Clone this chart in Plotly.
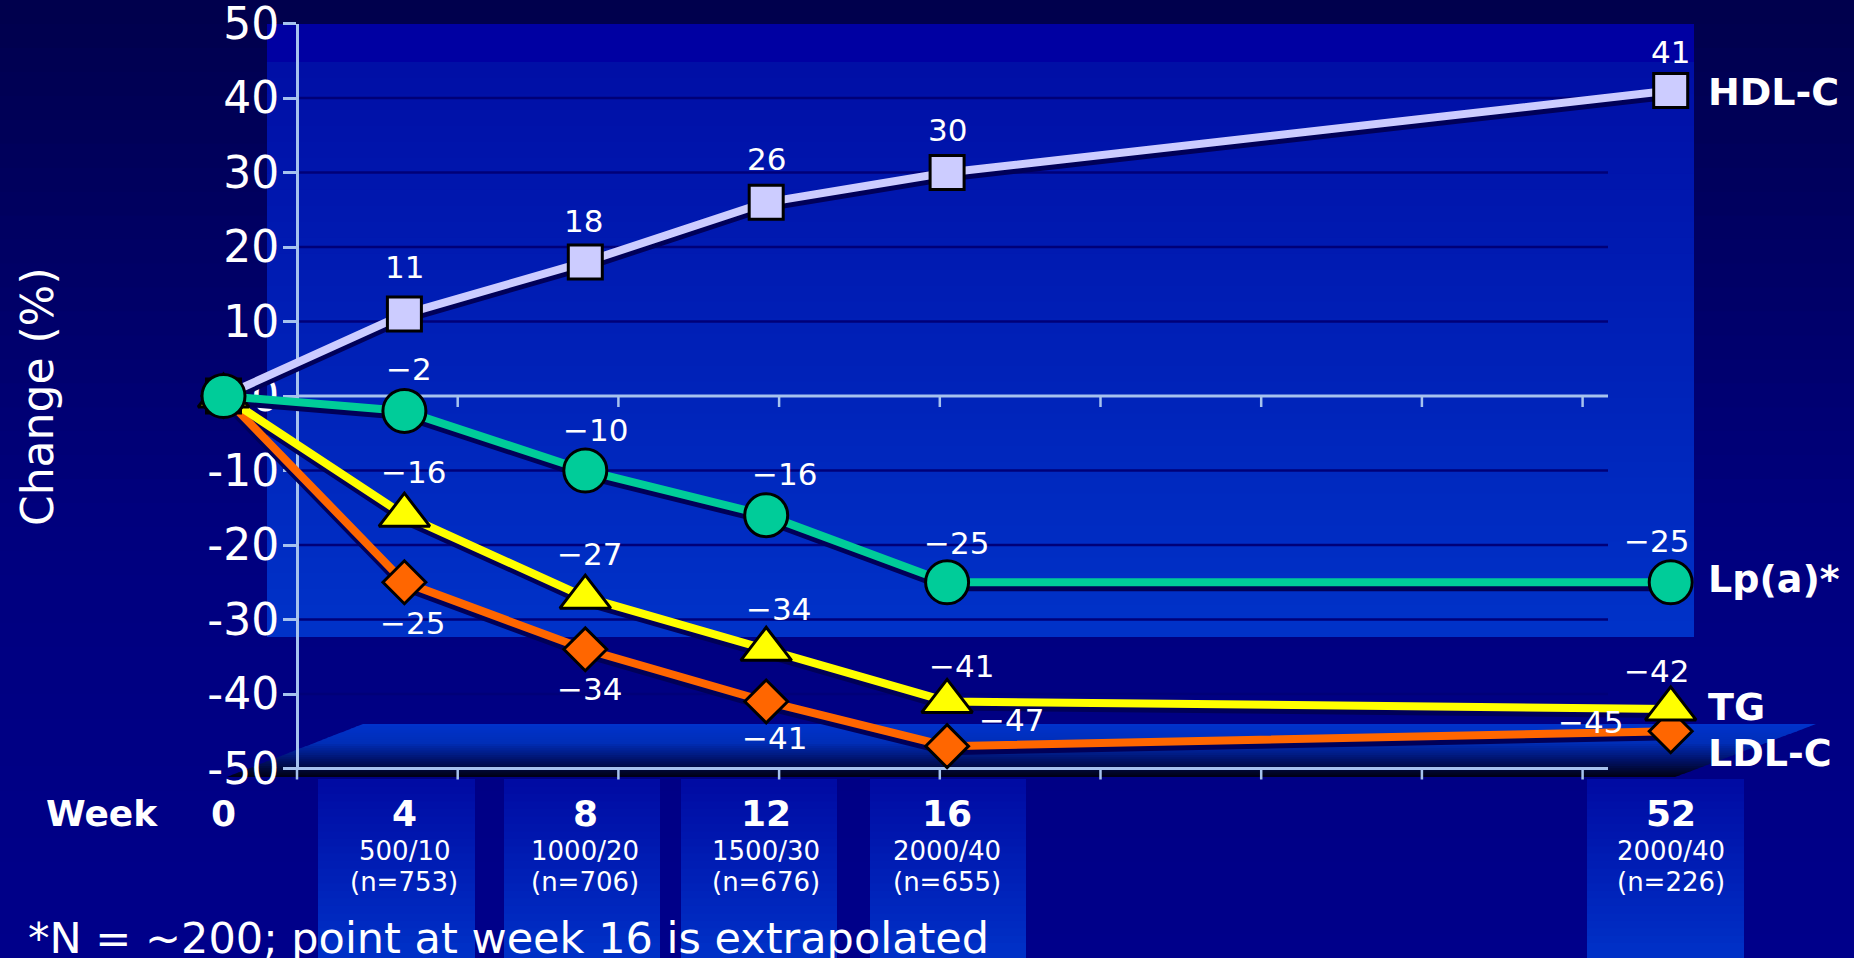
import plotly.graph_objects as go

# ---- data -----------------------------------------------------------------
weeks = [0, 4, 8, 12, 16, 52]
slots = [0, 1, 2, 3, 4, 8]                       # horizontal slot of each visit
doses = ["", "500/10", "1000/20", "1500/30", "2000/40", "2000/40"]
n_subjects = [None, 753, 706, 676, 655, 226]

hdl_c = [0, 11, 18, 26, 30, 41]
lp_a = [0, -2, -10, -16, -25, -25]
tg = [0, -16, -27, -34, -41, -42]
ldl_c = [0, -25, -34, -41, -47, -45]

y_ticks = [-50, -40, -30, -20, -10, 0, 10, 20, 30, 40, 50]
y_title = "Change (%)"
footnote = "*N = ~200; point at week 16 is extrapolated"

# ---- geometry (pixels) ----------------------------------------------------
W, H = 1854, 958
X0_PX, SLOT_PX = 223.5, 180.9          # x of slot 0 and width of one slot
Y_TOP_PX, Y_BOT_PX = 23.5, 768.5       # y of +50 and -50
AXIS_L, AXIS_R = 297, 1608             # extent of the category axis lines
TICK_STEP = 160.7
ZERO_PX = Y_TOP_PX + 50 * (Y_BOT_PX - Y_TOP_PX) / 100

FONT = "DejaVu Sans"
AXIS_BLUE = "#a6c2ee"
SHADOW = "#000058"


def fx(px):
    return px / W


def fy(py):
    return 1 - py / H


def hex_rgb(c):
    return [int(c[i:i + 2], 16) for i in (1, 3, 5)]


def color_at(stops, t):
    for (t0, c0), (t1, c1) in zip(stops[:-1], stops[1:]):
        if t <= t1:
            u = 0 if t1 == t0 else (t - t0) / (t1 - t0)
            a, b = hex_rgb(c0), hex_rgb(c1)
            return "#%02x%02x%02x" % tuple(round(a[k] + (b[k] - a[k]) * u) for k in range(3))
    return stops[-1][1]


shapes = []


def v_gradient(x0, x1, y0, y1, stops, n=30):
    h = (y1 - y0) / n
    for i in range(n):
        ya = y0 + i * h
        yb = min(y1, ya + h + 0.8)
        shapes.append(dict(type="rect", xref="paper", yref="paper",
                           x0=fx(x0), x1=fx(x1), y0=fy(yb), y1=fy(ya),
                           fillcolor=color_at(stops, (i + 0.5) / n),
                           line=dict(width=0), layer="below"))


# page background
v_gradient(0, W, 0, H, [(0, "#00004c"), (0.55, "#00007e"), (1, "#00008a")], n=40)

# back wall
shapes.append(dict(type="rect", xref="paper", yref="paper",
                   x0=fx(267), x1=fx(1694), y0=fy(62), y1=fy(24),
                   fillcolor="#0000a2", line=dict(width=0), layer="below"))
v_gradient(267, 1694, 62, 637, [(0, "#000ea6"), (1, "#0033c8")], n=36)

# floor (slanted slab)
FL_TOP, FL_BOT = 724, 777
FL_LT, FL_LB, FL_RT, FL_RB = 363, 227, 1816, 1675
floor_stops = [(0, "#0033cc"), (0.35, "#002eb8"), (0.65, "#001470"), (1, "#000012")]
n_floor = 24
for i in range(n_floor):
    ya = FL_TOP + (FL_BOT - FL_TOP) * i / n_floor
    yb = min(FL_BOT, FL_TOP + (FL_BOT - FL_TOP) * (i + 1) / n_floor + 0.8)
    ta, tb = (ya - FL_TOP) / (FL_BOT - FL_TOP), (yb - FL_TOP) / (FL_BOT - FL_TOP)
    xla, xlb = FL_LT + (FL_LB - FL_LT) * ta, FL_LT + (FL_LB - FL_LT) * tb
    xra, xrb = FL_RT + (FL_RB - FL_RT) * ta, FL_RT + (FL_RB - FL_RT) * tb
    path = (f"M {fx(xla)},{fy(ya)} L {fx(xra)},{fy(ya)} "
            f"L {fx(xrb)},{fy(yb)} L {fx(xlb)},{fy(yb)} Z")
    shapes.append(dict(type="path", xref="paper", yref="paper", path=path,
                       fillcolor=color_at(floor_stops, (i + 0.5) / n_floor),
                       line=dict(width=0), layer="below"))

# label columns under the visits
for cx0, cx1 in [(318, 475), (504, 660), (681, 837), (870, 1026), (1587, 1744)]:
    v_gradient(cx0, cx1, 779, H, [(0, "#000aa2"), (1, "#0032c8")], n=24)

# horizontal grid on the wall
for v in y_ticks:
    if v in (0, 50, -50):
        continue
    shapes.append(dict(type="line", xref="paper", yref="y",
                       x0=fx(AXIS_L), x1=fx(AXIS_R), y0=v, y1=v,
                       line=dict(color="#000078", width=2.5), layer="below"))

# zero line and floor line with their tick marks
for base_px in (ZERO_PX, Y_BOT_PX):
    shapes.append(dict(type="line", xref="paper", yref="paper",
                       x0=fx(AXIS_L), x1=fx(AXIS_R), y0=fy(base_px), y1=fy(base_px),
                       line=dict(color=AXIS_BLUE, width=3), layer="below"))
    k = 0
    while AXIS_L + k * TICK_STEP <= AXIS_R:
        tx = AXIS_L + k * TICK_STEP
        shapes.append(dict(type="line", xref="paper", yref="paper",
                           x0=fx(tx), x1=fx(tx), y0=fy(base_px), y1=fy(base_px + 11),
                           line=dict(color=AXIS_BLUE, width=2.5), layer="below"))
        k += 1

# ---- series ---------------------------------------------------------------
series = [
    dict(name="LDL-C", y=ldl_c, color="#ff6600", symbol="diamond", size=33,
         tag_dy=-22,
         offs=[None, (8, -41), (4, -40), (8, -37), (64, 26), (-80, 9)]),
    dict(name="TG", y=tg, color="#ffff00", symbol="triangle-up", size=44,
         tag_dy=2,
         offs=[None, (9, 43), (4, 43), (12, 40), (14, 35), (-14, 38)]),
    dict(name="HDL-C", y=hdl_c, color="#ccccff", symbol="square", size=34,
         tag_dy=-1,
         offs=[None, (0, 47), (-2, 41), (0, 43), (0, 43), (0, 39)]),
    dict(name="Lp(a)*", y=lp_a, color="#00cc99", symbol="circle", size=43,
         tag_dy=3,
         offs=[None, (5, 42), (10, 41), (18, 41), (9, 39), (-14, 41)]),
]

fig = go.Figure()
shadow_drop = 5 * 100 / (Y_BOT_PX - Y_TOP_PX)   # 5 px in value units
for s in series:
    fig.add_trace(go.Scatter(x=slots, y=[v - shadow_drop for v in s["y"]], mode="lines",
                             line=dict(color=SHADOW, width=8), hoverinfo="skip",
                             showlegend=False))
for s in series:
    fig.add_trace(go.Scatter(x=slots, y=s["y"], mode="lines+markers", name=s["name"],
                             line=dict(color=s["color"], width=8),
                             marker=dict(symbol=s["symbol"], size=s["size"], color=s["color"],
                                         line=dict(color="black", width=3)),
                             cliponaxis=False, showlegend=False))

annotations = []


def fmt(v):
    return str(v).replace("-", "\u2212")


def text_font(size):
    return dict(family=FONT, size=size, color="white")


for s in series:
    for slot, v, off in zip(slots, s["y"], s["offs"]):
        if off is None:
            continue
        annotations.append(dict(x=slot, y=v, xref="x", yref="y", text=fmt(v),
                                showarrow=False, xshift=off[0], yshift=off[1],
                                xanchor="center", yanchor="middle", font=text_font(31)))
    annotations.append(dict(x=slots[-1], y=s["y"][-1], xref="x", yref="y",
                            text=f"<b>{s['name']}</b>", showarrow=False,
                            xanchor="left", yanchor="middle",
                            xshift=1706 - (X0_PX + SLOT_PX * slots[-1]),
                            yshift=s["tag_dy"], font=text_font(38)))

# visit labels
annotations.append(dict(x=fx(102), y=fy(813), xref="paper", yref="paper", text="<b>Week</b>",
                        showarrow=False, xanchor="center", yanchor="middle",
                        font=text_font(36)))
for slot, wk, dose, n in zip(slots, weeks, doses, n_subjects):
    annotations.append(dict(x=slot, y=fy(813), xref="x", yref="paper", text=f"<b>{wk}</b>",
                            showarrow=False, xanchor="center", yanchor="middle",
                            font=text_font(36)))
    if dose:
        annotations.append(dict(x=slot, y=fy(851), xref="x", yref="paper", text=dose,
                                showarrow=False, xanchor="center", yanchor="middle",
                                font=text_font(26)))
        annotations.append(dict(x=slot, y=fy(882), xref="x", yref="paper", text=f"(n={n})",
                                showarrow=False, xanchor="center", yanchor="middle",
                                font=text_font(26)))

annotations.append(dict(x=fx(37), y=fy(397), xref="paper", yref="paper", text=y_title,
                        textangle=-90, showarrow=False, xanchor="center", yanchor="middle",
                        font=text_font(44)))
annotations.append(dict(x=fx(26), y=fy(938), xref="paper", yref="paper", text=footnote,
                        xanchor="left", yanchor="middle", showarrow=False,
                        font=text_font(43)))

fig.update_layout(
    width=W, height=H,
    margin=dict(l=0, r=0, t=0, b=0, pad=0, autoexpand=False),
    paper_bgcolor="#00004c", plot_bgcolor="rgba(0,0,0,0)",
    showlegend=False,
    xaxis=dict(domain=[0, 1], range=[-X0_PX / SLOT_PX, (W - X0_PX) / SLOT_PX],
               visible=False, fixedrange=True, automargin=False),
    yaxis=dict(domain=[fy(Y_BOT_PX), fy(Y_TOP_PX)], range=[-50, 50],
               anchor="free", position=fx(AXIS_L), automargin=False,
               showline=True, linecolor=AXIS_BLUE, linewidth=3,
               ticks="outside", ticklen=13, tickwidth=3, tickcolor=AXIS_BLUE,
               tickvals=y_ticks, ticktext=[str(v) for v in y_ticks],
               tickfont=dict(family=FONT, size=44, color="white"),
               ticklabeloverflow="allow", ticklabelstandoff=-5,
               showgrid=False, zeroline=False, layer="below traces", fixedrange=True),
    shapes=shapes,
    annotations=annotations,
)

fig.write_html("out.html")
